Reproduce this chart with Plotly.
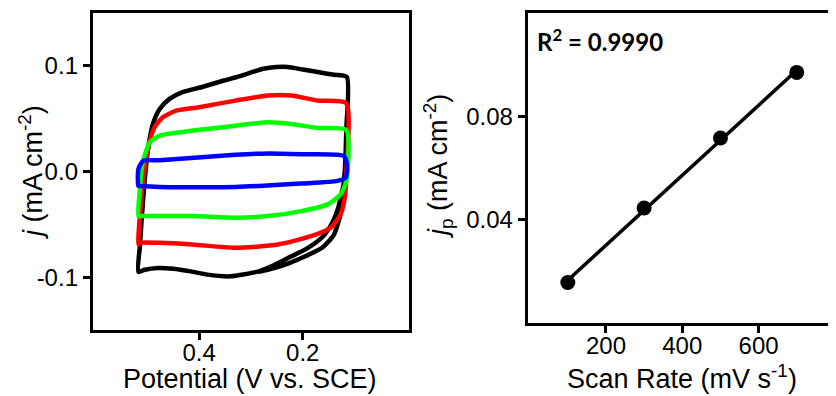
import numpy as np
import plotly.graph_objects as go

# ---------------- Data ----------------
# CV curves (Potential in V vs. SCE, j in mA cm^-2)
black_E = [0.117, 0.125, 0.132, 0.143, 0.162, 0.194, 0.225, 0.255, 0.285,
           0.340, 0.384, 0.416, 0.450, 0.479, 0.505, 0.517,
           0.514, 0.511, 0.505, 0.498, 0.489, 0.476, 0.457, 0.432, 0.394, 0.352,
           0.321, 0.276, 0.251, 0.229, 0.200, 0.171, 0.140, 0.115,
           0.116, 0.119, 0.122, 0.127, 0.140, 0.162, 0.194, 0.225, 0.255, 0.285]
black_j = [-0.005, -0.020, -0.035, -0.0485, -0.0620, -0.0735, -0.0810, -0.0885, -0.0945,
           -0.0992, -0.0976, -0.0945, -0.0920, -0.0913, -0.0930, -0.0950,
           -0.0700, -0.0470, -0.0089, 0.0228, 0.0450, 0.0592, 0.0687, 0.0751, 0.0800, 0.0861,
           0.0903, 0.0972, 0.0988, 0.0989, 0.0965, 0.0941, 0.0915, 0.0895,
           0.0400, 0.0000, -0.0152, -0.0400, -0.0600, -0.0720, -0.0800, -0.0865, -0.0915, -0.0950]

red_E = [0.517, 0.514, 0.508, 0.498, 0.486, 0.470, 0.444, 0.400, 0.330, 0.267,
         0.222, 0.171, 0.116, 0.116, 0.118, 0.127, 0.146, 0.184, 0.248, 0.330,
         0.413, 0.476, 0.514, 0.517]
red_j = [-0.0691, -0.0406, -0.0089, 0.0228, 0.0418, 0.0513, 0.0576, 0.0608, 0.0671, 0.0719,
         0.0719, 0.0671, 0.0646, 0.0000, -0.0216, -0.0406, -0.0532, -0.0612, -0.0691, -0.0722,
         -0.0691, -0.0675, -0.0675, -0.0691]

green_E = [0.517, 0.514, 0.508, 0.495, 0.476, 0.438, 0.330, 0.267, 0.222, 0.171,
           0.116, 0.116, 0.127, 0.152, 0.203, 0.267, 0.330, 0.413, 0.514, 0.517]
green_j = [-0.0422, -0.0152, 0.0101, 0.0276, 0.0339, 0.0371, 0.0434, 0.0466, 0.0450, 0.0412,
           0.0393, -0.0089, -0.0216, -0.0311, -0.0375, -0.0422, -0.0437, -0.0422, -0.0422, -0.0422]

blue_E = [0.517, 0.517, 0.508, 0.476, 0.330, 0.267, 0.203, 0.121, 0.115, 0.117,
          0.133, 0.203, 0.330, 0.476, 0.514, 0.517]
blue_j = [-0.0137, 0.0022, 0.0101, 0.0107, 0.0158, 0.0171, 0.0164, 0.0148, 0.0069, -0.0057,
          -0.0089, -0.0114, -0.0146, -0.0146, -0.0137, -0.0137]

# Peak current vs scan rate
scan_rate = [100, 300, 500, 700]
jp = [0.0157, 0.0445, 0.0716, 0.0970]
r2_text = "R<sup>2</sup> = 0.9990"

# tick labels
cv_xticks = [0.4, 0.2]
cv_xticklabels = ["0.4", "0.2"]
cv_yticks = [-0.1, 0.0, 0.1]
cv_yticklabels = ["-0.1", "0.0", "0.1"]
sr_xticks = [200, 400, 600]
sr_yticks = [0.04, 0.08]
sr_yticklabels = ["0.04", "0.08"]

# ---------------- Figure ----------------
OFF = 8                      # page body margin
W, H = 836 - OFF, 396 - OFF
FONT = "Liberation Sans, Arial, sans-serif"
TICK_SIZE = 24
TITLE_SIZE = 27

fig = go.Figure()

curves = [(black_E, black_j, "#000000"), (red_E, red_j, "#ff0000"),
          (green_E, green_j, "#00ff00"), (blue_E, blue_j, "#0000ff")]
for E, j, c in curves:
    fig.add_trace(go.Scatter(x=E, y=j, mode="lines", xaxis="x", yaxis="y",
                             line=dict(color=c, width=4.5, shape="spline", smoothing=0.6),
                             showlegend=False, hoverinfo="skip"))

coef = np.polyfit(scan_rate, jp, 1)
fit_x = [min(scan_rate), max(scan_rate)]
fit_y = list(np.polyval(coef, fit_x))
fig.add_trace(go.Scatter(x=fit_x, y=fit_y, mode="lines", xaxis="x2", yaxis="y2",
                         line=dict(color="black", width=3.5), showlegend=False))
fig.add_trace(go.Scatter(x=scan_rate, y=jp, mode="markers", xaxis="x2", yaxis="y2",
                         marker=dict(color="black", size=15), showlegend=False))

def px_x(p):
    return (p - OFF) / W

def px_y(p):
    return 1 - (p - OFF) / H

axis_common = dict(showline=True, linecolor="black", linewidth=3, mirror=True,
                   showgrid=False, zeroline=False, ticks="outside", ticklen=7,
                   tickwidth=2.5, tickcolor="black",
                   tickfont=dict(family=FONT, size=TICK_SIZE, color="black"))

fig.update_layout(
    width=W, height=H,
    margin=dict(l=0, r=0, t=0, b=0),
    paper_bgcolor="white", plot_bgcolor="white",
    xaxis=dict(domain=[px_x(93), px_x(410)], range=[0.605, -0.005], anchor="y",
               tickvals=cv_xticks, ticktext=cv_xticklabels, ticklabelstandoff=-8,
               **axis_common),
    yaxis=dict(domain=[px_y(330), px_y(13)], range=[-0.15, 0.15], anchor="x",
               tickvals=cv_yticks, ticktext=cv_yticklabels, **axis_common),
    xaxis2=dict(domain=[px_x(529), px_x(835)], range=[-5, 795], anchor="y2",
                tickvals=sr_xticks, ticklabelstandoff=-8, **axis_common),
    yaxis2=dict(domain=[px_y(323), px_y(13)], range=[0.0, 0.12], anchor="x2",
                tickvals=sr_yticks, ticktext=sr_yticklabels, **axis_common),
)

title_font = dict(family=FONT, size=TITLE_SIZE, color="black")
fig.add_annotation(text="Potential (V vs. SCE)", xref="paper", yref="paper",
                   x=px_x(251), y=px_y(379), xanchor="center", yanchor="middle",
                   showarrow=False, font=title_font)
fig.add_annotation(text="Scan Rate (mV s<sup>-1</sup>)", xref="paper", yref="paper",
                   x=px_x(684), y=px_y(377), xanchor="center", yanchor="middle",
                   showarrow=False, font=title_font)
fig.add_annotation(text="<i>j</i> (mA cm<sup>-2</sup>)", xref="paper", yref="paper",
                   x=px_x(31), y=px_y(172), xanchor="center", yanchor="middle",
                   textangle=-90, showarrow=False, font=title_font)
fig.add_annotation(text="<i>j</i><sub>p</sub> (mA cm<sup>-2</sup>)", xref="paper", yref="paper",
                   x=px_x(439), y=px_y(166), xanchor="center", yanchor="middle",
                   textangle=-90, showarrow=False, font=title_font)
fig.add_annotation(text="<b>" + r2_text + "</b>", xref="paper", yref="paper",
                   x=px_x(536), y=px_y(40), xanchor="left", yanchor="middle",
                   showarrow=False, font=dict(family="Lato, Carlito, sans-serif", size=24, color="black"))

fig.write_html("out.html")
